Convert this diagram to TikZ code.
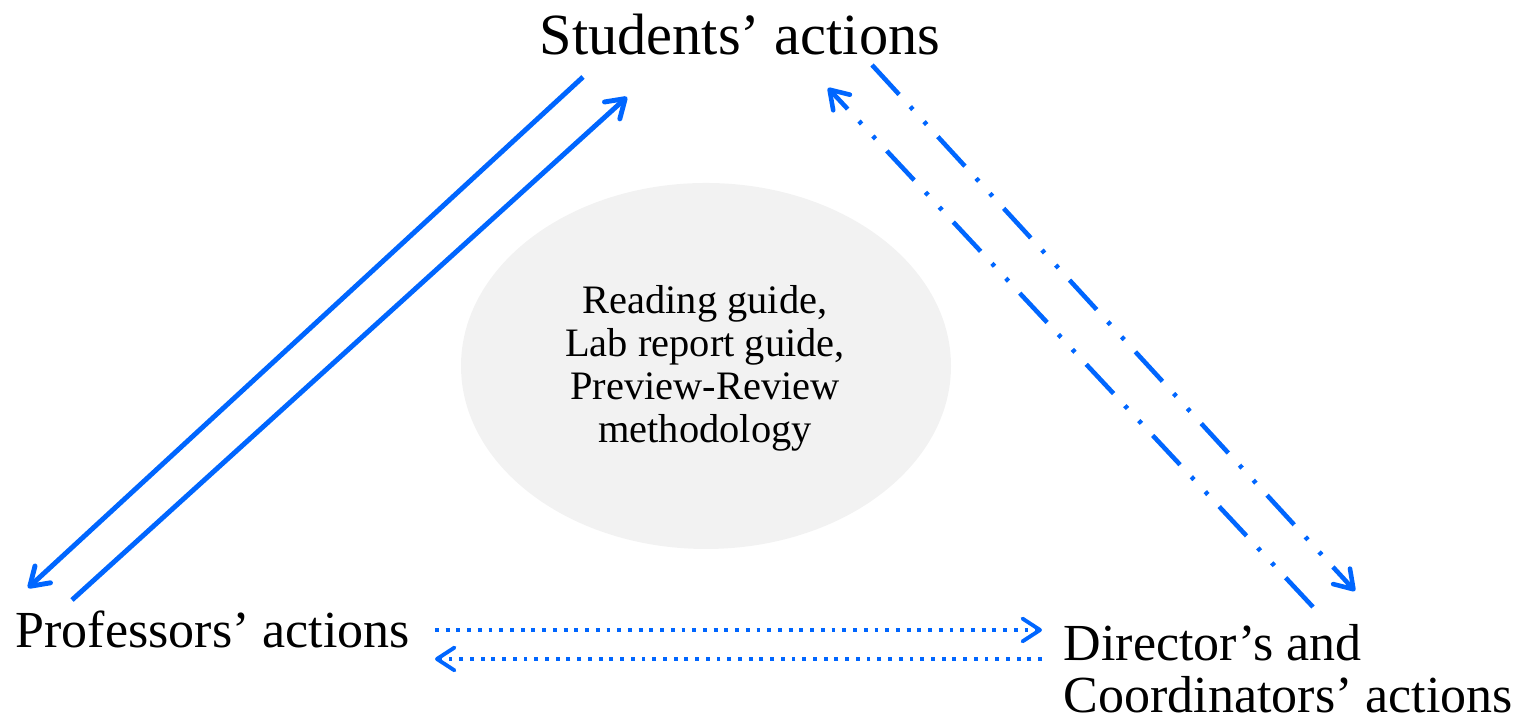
\documentclass[tikz,border=0pt]{standalone}
\usepackage{fontspec}
\setmainfont{Liberation Serif}
\usetikzlibrary{arrows.meta}
\definecolor{linkblue}{RGB}{0,102,255}
\definecolor{hubgrey}{RGB}{242,242,242}
\tikzset{
  actor/.style={font=\fontsize{16.6}{14.8}\selectfont, inner sep=0pt},
  smallactor/.style={font=\fontsize{14.8}{14.8}\selectfont, inner sep=0pt},
  hubtext/.style={font=\fontsize{11.5}{12.3}\selectfont, align=center, inner sep=0pt},
  tip/.style={-{Straight Barb[length=5pt,width=6.5pt,round]}},
  solidlink/.style={linkblue, line width=1.4pt, tip},
  dotlink/.style={linkblue, line width=1.1pt, dash pattern=on 1.1pt off 1.95pt, tip},
  dashdotlink/.style={linkblue, line width=1.3pt,
    dash pattern=on 11.4pt off 4.7pt on 1.1pt off 4.7pt on 1.1pt off 4.7pt, tip},
}
\begin{document}
\begin{tikzpicture}[x=1cm,y=1cm]
\useasboundingbox (0,0) rectangle (15.29,7.2);

% central shared resources (base anchor sits on the last line)
\fill[hubgrey] (7.06,3.54) ellipse [x radius=2.45, y radius=1.83];
\node[hubtext, anchor=base] (hub) at (7.05,2.77)
  {Reading guide,\\Lab report guide,\\Preview-Review\\methodology};

% the three actors
\node[actor, anchor=base] (students) at (7.40,6.65) {Students’ actions};
\node[smallactor, anchor=base west] (profs) at (0.15,0.72) {Professors’ actions};
\node[smallactor, anchor=base west, align=left] (dirs) at (10.63,0.07)
  {Director’s and\\Coordinators’ actions};

% end points of the links
\coordinate (sp1) at (5.83,6.43);
\coordinate (ps1) at (0.28,1.32);
\coordinate (ps2) at (0.72,1.20);
\coordinate (sp2) at (6.27,6.23);
\coordinate (sd1) at (8.72,6.55);
\coordinate (ds1) at (13.55,1.29);
\coordinate (ds2) at (13.13,1.13);
\coordinate (sd2) at (8.28,6.32);
\coordinate (pd1) at (4.35,0.90);
\coordinate (dp1) at (10.42,0.90);
\coordinate (dp2) at (10.42,0.61);
\coordinate (pd2) at (4.35,0.61);

% students <-> professors
\draw[solidlink] (sp1) -- (ps1);
\draw[solidlink] (ps2) -- (sp2);
% students <-> director and coordinators
\draw[dashdotlink] (sd1) -- (ds1);
\draw[dashdotlink] (ds2) -- (sd2);
% professors <-> director and coordinators
\draw[dotlink] (pd1) -- (dp1);
\draw[dotlink] (dp2) -- (pd2);
\end{tikzpicture}
\end{document}
